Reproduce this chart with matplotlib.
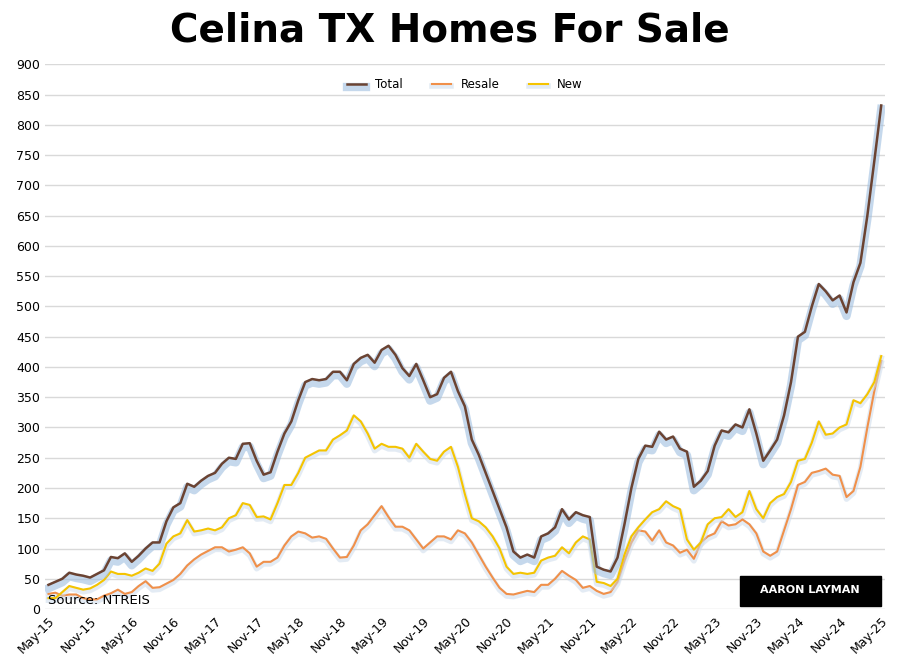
import numpy as np
import matplotlib.pyplot as plt
import matplotlib.patheffects as pe

# monthly, May-15 .. May-25
total = [40, 45, 50, 60, 57, 55, 52,
         58, 64, 86, 84, 92, 78,
         88, 100, 110, 110, 145, 168,
         175, 207, 202, 212, 220, 225,
         240, 250, 248, 273, 274, 245,
         222, 226, 260, 290, 310, 345,
         375, 380, 378, 380, 392, 392,
         378, 405, 415, 420, 407, 428,
         435, 420, 398, 385, 405, 378,
         350, 355, 382, 392, 360, 335,
         280, 255, 225, 195, 165, 135,
         95, 85, 90, 85, 120, 125,
         135, 165, 148, 160, 155, 152,
         70, 65, 62, 85, 140, 200,
         248, 270, 268, 293, 280, 285,
         265, 260, 202, 212, 228, 270,
         295, 292, 305, 300, 330, 290,
         245, 262, 280, 320, 375, 450,
         458, 500, 537, 525, 510, 518,
         490, 540, 572, 650, 740, 832]
resale = [25, 27, 22, 24, 24, 18, 16,
          16, 22, 26, 32, 25, 28,
          38, 46, 35, 36, 42, 48,
          58, 72, 82, 90, 96, 102,
          102, 95, 98, 102, 92, 70,
          78, 78, 85, 105, 120, 128,
          125, 118, 120, 116, 100, 85,
          86, 105, 130, 140, 155, 170,
          152, 136, 136, 130, 115, 100,
          110, 120, 120, 115, 130, 125,
          110, 90, 70, 52, 35, 25,
          24, 27, 30, 28, 40, 40,
          50, 63, 55, 48, 35, 38,
          30, 25, 28, 45, 80, 110,
          130, 128, 113, 130, 110, 105,
          93, 98, 83, 110, 120, 125,
          145, 138, 140, 148, 140, 125,
          95, 88, 95, 130, 165, 205,
          210, 225, 228, 232, 222, 220,
          185, 195, 235, 300, 360, 410]
new = [18, 18, 28, 38, 35, 32, 34,
       40, 48, 62, 58, 58, 55,
       60, 67, 63, 75, 108, 120,
       125, 147, 128, 130, 133, 130,
       135, 150, 155, 175, 172, 152,
       153, 148, 175, 205, 205, 225,
       250, 256, 262, 262, 280, 287,
       295, 320, 310, 290, 265, 273,
       268, 268, 265, 250, 273, 260,
       248, 245, 260, 268, 235, 190,
       150, 145, 135, 120, 100, 70,
       58, 60, 58, 60, 80, 85,
       88, 102, 92, 110, 120, 115,
       45, 43, 38, 50, 90, 120,
       135, 148, 160, 165, 178, 170,
       165, 115, 98, 110, 140, 150,
       152, 165, 152, 160, 195, 165,
       150, 175, 185, 190, 210, 245,
       248, 275, 310, 288, 290, 300,
       305, 345, 340, 355, 375, 418]
tick_labels = ["May-15", "Nov-15", "May-16", "Nov-16", "May-17", "Nov-17",
               "May-18", "Nov-18", "May-19", "Nov-19", "May-20", "Nov-20",
               "May-21", "Nov-21", "May-22", "Nov-22", "May-23", "Nov-23",
               "May-24", "Nov-24", "May-25"]

x = np.arange(len(total))

fig = plt.figure(figsize=(9, 6.7), dpi=100)
ax = fig.add_axes([0.05, 0.091, 0.933, 0.813])

glow = [pe.SimpleLineShadow(offset=(0, -2.5), shadow_color="#9fbfe0", alpha=0.6, linewidth=6),
        pe.Normal()]
soft = [pe.SimpleLineShadow(offset=(0, -1.5), shadow_color="#c9d9ea", alpha=0.5, linewidth=4),
        pe.Normal()]
ax.plot(x, total, color="#6b4332", lw=1.8, label="Total", path_effects=glow, zorder=4)
ax.plot(x, resale, color="#f0904a", lw=1.5, label="Resale", zorder=3, path_effects=soft)
ax.plot(x, new, color="#f5c400", lw=1.5, label="New", zorder=3, path_effects=soft)

ax.set_xlim(-0.5, 120.5)
ax.set_ylim(0, 900)
ax.set_yticks(range(0, 901, 50))
ax.set_xticks(range(0, 121, 6))
ax.set_xticklabels(tick_labels, rotation=45, ha="right", rotation_mode="anchor", fontsize=9)
ax.tick_params(axis="y", labelsize=9, length=0)
ax.tick_params(axis="x", length=0, pad=4)
ax.grid(axis="y", color="#d9d9d9", lw=1)
ax.set_axisbelow(True)
for s in ax.spines.values():
    s.set_visible(False)

ax.legend(loc="upper center", ncol=3, frameon=False, fontsize=8.5,
          bbox_to_anchor=(0.5, 0.995), handlelength=1.6, columnspacing=2.5)

ax.text(0.0, 3, "Source: NTREIS", fontsize=9.5, va="bottom", ha="left")

fig.text(0.5, 0.955, "Celina TX Homes For Sale", ha="center", va="center",
         fontsize=28, fontweight="heavy", family="DejaVu Sans")

# logo box
fig.patches.append(plt.Rectangle((0.822, 0.095), 0.157, 0.045, transform=fig.transFigure,
                                 color="black", zorder=5))
fig.text(0.9, 0.119, "AARON LAYMAN", color="white", fontsize=8, ha="center",
         va="center", zorder=6, fontweight="bold")

fig.savefig("out.png", dpi=100)
